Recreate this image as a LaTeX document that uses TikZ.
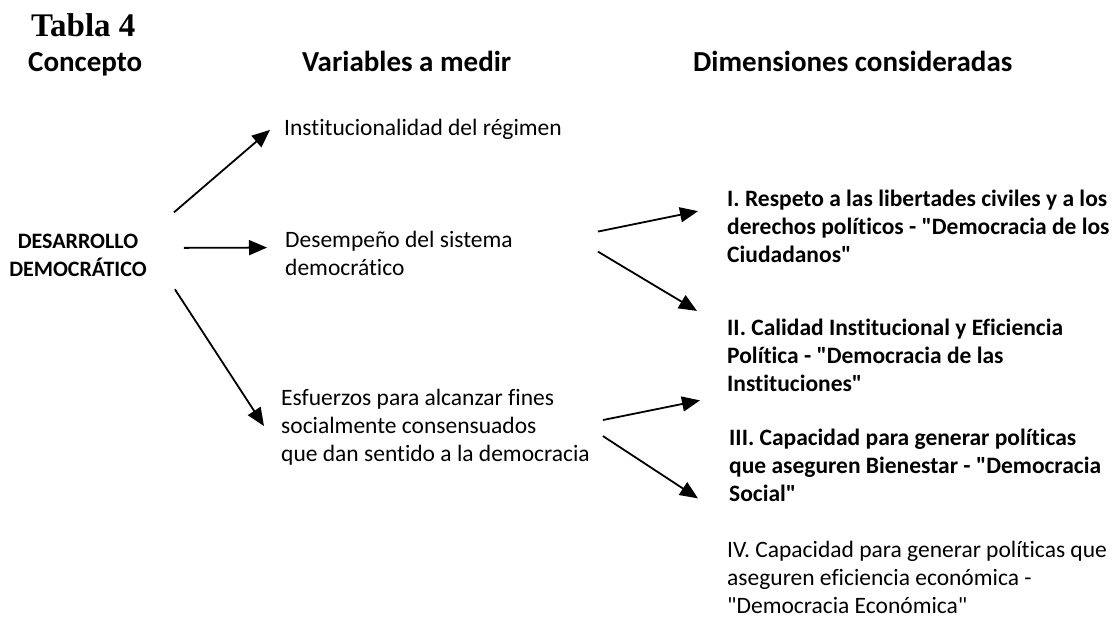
\documentclass[tikz,border=0pt]{standalone}
\usepackage{fontspec}
\setmainfont{Carlito}[Ligatures={TeX,NoCommon}]
\newfontfamily\tablafont{Liberation Serif}
\usetikzlibrary{arrows.meta,positioning}
\tikzset{
  titulo/.style={anchor=base west,inner sep=0pt,font=\tablafont\fontsize{33}{40}\selectfont\bfseries},
  encabezado/.style={anchor=base west,inner sep=0pt,font=\fontsize{29}{35}\selectfont\bfseries},
  concepto/.style={anchor=base,inner sep=0pt,align=center,font=\fontsize{22}{28}\selectfont\bfseries},
  varbox/.style={anchor=base west,inner sep=0pt,align=left,font=\fontsize{23.5}{27.7}\selectfont},
  dimbox/.style={varbox,font=\fontsize{23.5}{27.7}\selectfont\bfseries},
  flecha/.style={-{Triangle[length=18pt,width=15pt]},line width=1.8pt},
}
\newcommand{\cq}{\textquotedbl}

\begin{document}
\begin{tikzpicture}[x=1pt,y=-1pt]
  \useasboundingbox (0,0) rectangle (1117,619);
  % titles
  \node[titulo] (tabla) at (31,36) {Tabla 4};
  \node[encabezado] (hconcepto) at (28,71) {Concepto};
  \node[encabezado] (hvariables) at (302,71) {Variables a medir};
  \node[encabezado] (hdimensiones) at (693,71) {Dimensiones consideradas};
  % concept and variables (placed by their last line)
  \node[concepto] (desarrollo) at (78,276) {DESARROLLO\\DEMOCRÁTICO};
  \node[varbox] (inst) at (284,135) {Institucionalidad del régimen};
  \node[varbox] (desempeno) at (285,275.5) {Desempeño del sistema\\democrático};
  \node[varbox] (esfuerzos) at (281,461) {Esfuerzos para alcanzar fines\\socialmente consensuados\\que dan sentido a la democracia};
  % dimensions
  \node[dimbox] (dim1) at (727,262) {I. Respeto a las libertades civiles y a los\\derechos políticos - \cq Democracia de los\\Ciudadanos\cq};
  \node[dimbox] (dim2) at (727,391) {II. Calidad Institucional y Eficiencia\\Política - \cq Democracia de las\\Instituciones\cq};
  \node[dimbox] (dim3) at (729,501) {III. Capacidad para generar políticas\\que aseguren Bienestar - \cq Democracia\\Social\cq};
  \node[varbox] (dim4) at (727,613) {IV. Capacidad para generar políticas que\\aseguren eficiencia económica -\\\cq Democracia Económica\cq};
  % arrows
  \draw[flecha] ([xshift=27pt,yshift=21pt]desarrollo.north east) -- ([xshift=-14pt,yshift=-1pt]inst.west);
  \draw[flecha] ([xshift=37pt,yshift=7pt]desarrollo.east) -- ([xshift=-18pt,yshift=6pt]desempeno.west);
  \draw[flecha] ([xshift=28pt,yshift=-13pt]desarrollo.south east) -- ([xshift=-17pt,yshift=1pt]esfuerzos.west);
  \draw[flecha] ([xshift=85pt,yshift=22pt]desempeno.east) -- ([xshift=-29pt,yshift=15pt]dim1.west);
  \draw[flecha] ([xshift=85pt,yshift=2pt]desempeno.east) -- ([xshift=-30pt,yshift=8pt]dim2.north west);
  \draw[flecha] ([xshift=13pt,yshift=7pt]esfuerzos.east) -- ([xshift=-27pt,yshift=-9pt]dim2.south west);
  \draw[flecha] ([xshift=13pt,yshift=-9pt]esfuerzos.east) -- ([xshift=-31pt,yshift=3pt]dim3.south west);
\end{tikzpicture}
\end{document}
